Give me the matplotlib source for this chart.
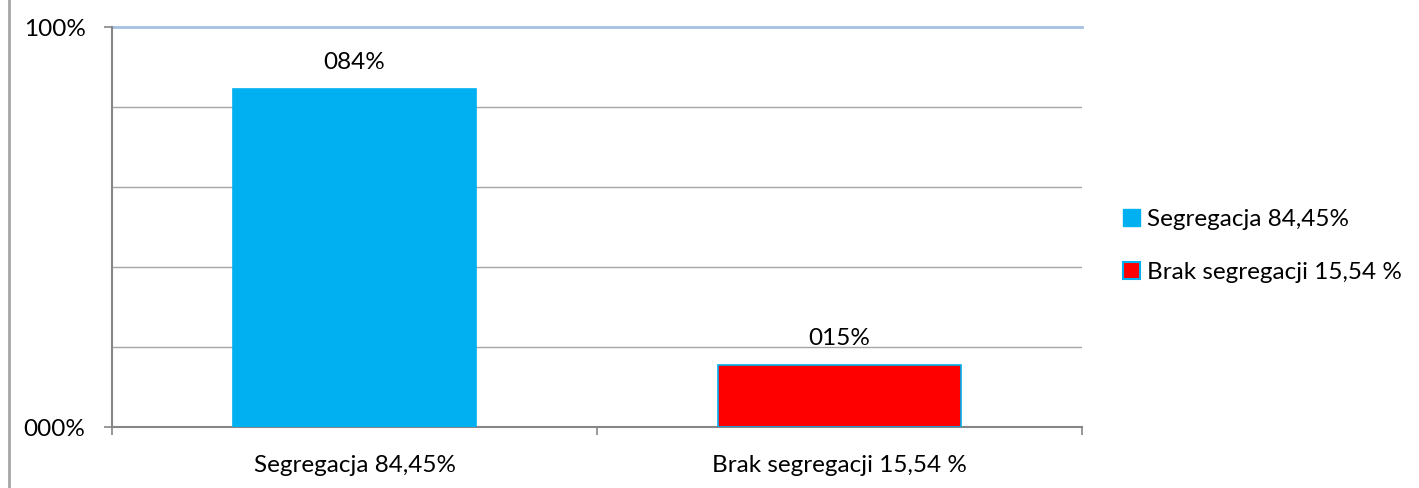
import matplotlib
matplotlib.use("Agg")
import matplotlib.pyplot as plt
from matplotlib.lines import Line2D
from matplotlib.patches import Patch

categories = ["Segregacja 84,45%", "Brak segregacji 15,54 %"]
values = [0.8445, 0.1554]
bar_labels = ["084%", "015%"]
colors = ["#00B0F0", "#FF0000"]
edge_colors = ["#00B0F0", "#00B0F0"]
ytick_vals = [0.0, 1.0]
ytick_labels = ["000%", "100%"]
grid_vals = [0.2, 0.4, 0.6, 0.8]

plt.rcParams['font.family'] = ['Lato', 'DejaVu Sans']
FS = 17.5

fig = plt.figure(figsize=(14.19, 4.88), dpi=100)
ax = fig.add_axes([112/1419, 1 - 427/488, 970/1419, 400/488])

x = list(range(len(categories)))
bars = ax.bar(x, values, width=0.503, color=colors, edgecolor=edge_colors, linewidth=1.2, zorder=3)

for xi, v, lab in zip(x, values, bar_labels):
    ax.text(xi, v + 0.04, lab, ha='center', va='bottom', fontsize=FS, color='#000000')

ax.set_xlim(-0.5, 1.5)
ax.set_ylim(0, 1)

for g in grid_vals:
    ax.axhline(g, color='#A6A6A6', linewidth=1.0, zorder=1)
ax.axhline(1.0, color='#A6C0E4', linewidth=2.0, zorder=1, clip_on=False)

ax.set_yticks(ytick_vals)
ax.set_yticklabels(ytick_labels, fontsize=FS)
ax.set_xticks(x)
ax.set_xticklabels(categories, fontsize=FS)
ax.set_xticks([-0.5, 0.5, 1.5], minor=True)
ax.tick_params(axis='x', which='major', length=0, pad=20)
ax.tick_params(axis='x', which='minor', length=6, color='#868686', width=1.2)
ax.tick_params(axis='y', length=6, color='#868686', width=1.2, pad=13)

for s in ['top', 'right']:
    ax.spines[s].set_visible(False)
for s in ['left', 'bottom']:
    ax.spines[s].set_color('#868686')
    ax.spines[s].set_linewidth(1.5)

handles = [Patch(facecolor=colors[0], edgecolor=edge_colors[0], label=categories[0]),
           Patch(facecolor=colors[1], edgecolor=edge_colors[1], linewidth=1.5, label=categories[1])]
fig.legend(handles=handles, loc='center left', bbox_to_anchor=(1113/1419, 1 - 246/488),
           frameon=False, fontsize=FS, handlelength=0.7, handleheight=0.7,
           handletextpad=0.3, labelspacing=1.3, borderaxespad=0)

fig.add_artist(Line2D([9/1419, 9/1419], [0, 1], color='#A6A6A6', linewidth=2))

fig.savefig("out.png", dpi=100)
